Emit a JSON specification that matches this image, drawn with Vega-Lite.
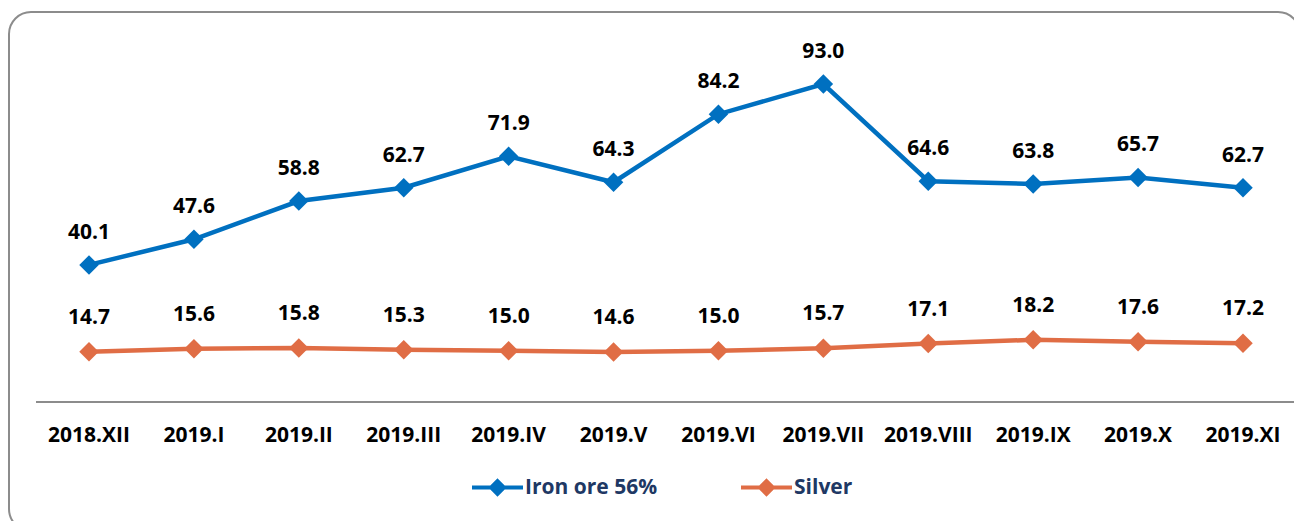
{
  "$schema": "https://vega.github.io/schema/vega-lite/v6.json",
  "autosize": {"type": "none"},
  "width": 1291,
  "height": 519,
  "padding": {"left": 9, "top": 12, "right": -6, "bottom": -10},
  "background": "white",
  "config": {
    "view": {"stroke": "#8c8c8c", "strokeWidth": 2, "cornerRadius": 22},
    "font": "Open Sans"
  },
  "data": {
    "values": [
      {"month": "2018.XII", "series": "Iron ore 56%", "value": 40.1},
      {"month": "2019.I", "series": "Iron ore 56%", "value": 47.6},
      {"month": "2019.II", "series": "Iron ore 56%", "value": 58.8},
      {"month": "2019.III", "series": "Iron ore 56%", "value": 62.7},
      {"month": "2019.IV", "series": "Iron ore 56%", "value": 71.9},
      {"month": "2019.V", "series": "Iron ore 56%", "value": 64.3},
      {"month": "2019.VI", "series": "Iron ore 56%", "value": 84.2},
      {"month": "2019.VII", "series": "Iron ore 56%", "value": 93.0},
      {"month": "2019.VIII", "series": "Iron ore 56%", "value": 64.6},
      {"month": "2019.IX", "series": "Iron ore 56%", "value": 63.8},
      {"month": "2019.X", "series": "Iron ore 56%", "value": 65.7},
      {"month": "2019.XI", "series": "Iron ore 56%", "value": 62.7},
      {"month": "2018.XII", "series": "Silver", "value": 14.7},
      {"month": "2019.I", "series": "Silver", "value": 15.6},
      {"month": "2019.II", "series": "Silver", "value": 15.8},
      {"month": "2019.III", "series": "Silver", "value": 15.3},
      {"month": "2019.IV", "series": "Silver", "value": 15.0},
      {"month": "2019.V", "series": "Silver", "value": 14.6},
      {"month": "2019.VI", "series": "Silver", "value": 15.0},
      {"month": "2019.VII", "series": "Silver", "value": 15.7},
      {"month": "2019.VIII", "series": "Silver", "value": 17.1},
      {"month": "2019.IX", "series": "Silver", "value": 18.2},
      {"month": "2019.X", "series": "Silver", "value": 17.6},
      {"month": "2019.XI", "series": "Silver", "value": 17.2}
    ]
  },
  "encoding": {
    "x": {"field": "month", "type": "nominal", "sort": null, "axis": null,
          "scale": {"type": "point", "padding": 0.653, "align": 0.584}},
    "y": {"field": "value", "type": "quantitative", "axis": null,
          "scale": {"domain": [-37.74, 114.1], "nice": false, "zero": false}}
  },
  "layer": [
    {
      "mark": {"type": "line", "strokeWidth": 4.5},
      "encoding": {
        "color": {
          "field": "series", "type": "nominal",
          "scale": {"domain": ["Iron ore 56%", "Silver"], "range": ["#0070C0", "#E06D45"]},
          "legend": {
            "title": null,
            "orient": "none",
            "legendX": 461,
            "legendY": 448,
            "direction": "horizontal",
            "gridAlign": "all",
            "columnPadding": 75,
            "labelFont": "Open Sans",
            "labelFontSize": 21,
            "labelFontWeight": "bold",
            "labelColor": "#203864",
            "labelOffset": 0,
            "symbolType": "M-1,0L1,0M0,-0.25L0.25,0L0,0.25L-0.25,0Z",
            "symbolSize": 2601,
            "symbolStrokeWidth": 4,
            "symbolOpacity": 1
          }
        }
      }
    },
    {
      "mark": {"type": "point", "shape": "diamond", "filled": true, "size": 380, "opacity": 1},
      "encoding": {
        "color": {"field": "series", "type": "nominal"}
      }
    },
    {
      "transform": [{"filter": "datum.series === 'Iron ore 56%'"}],
      "mark": {"type": "text", "dy": -32, "fontSize": 21, "fontWeight": "bold", "color": "#000000"},
      "encoding": {"text": {"field": "value", "type": "quantitative", "format": ".1f"}}
    },
    {
      "transform": [{"filter": "datum.series === 'Silver'"}],
      "mark": {"type": "text", "dy": -34, "fontSize": 21, "fontWeight": "bold", "color": "#000000"},
      "encoding": {"text": {"field": "value", "type": "quantitative", "format": ".1f"}}
    },
    {
      "transform": [{"filter": "datum.series === 'Silver'"}],
      "mark": {"type": "text", "dy": 34, "fontSize": 21, "fontWeight": "bold", "color": "#000000"},
      "encoding": {
        "y": {"datum": 0, "type": "quantitative"},
        "text": {"field": "month", "type": "nominal"}
      }
    },
    {
      "mark": {"type": "rule", "stroke": "#8c8c8c", "strokeWidth": 1.5, "xOffset": -52.5, "x2Offset": 60},
      "encoding": {
        "x": {"datum": "2018.XII"},
        "x2": {"datum": "2019.XI"},
        "y": {"datum": 0, "type": "quantitative"}
      }
    }
  ]
}
